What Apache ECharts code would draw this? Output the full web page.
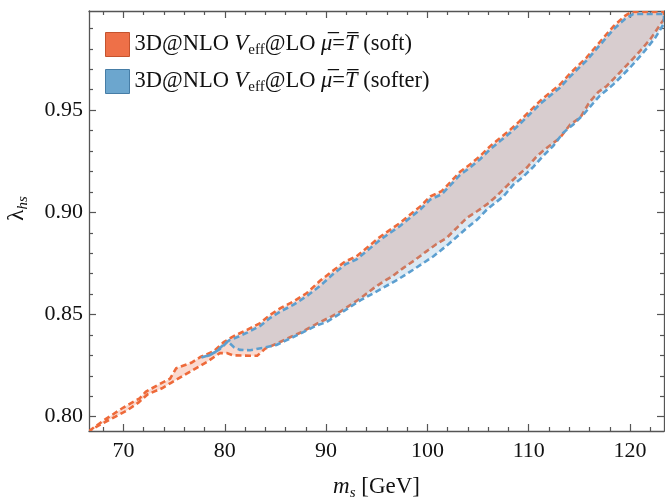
<!DOCTYPE html>
<html><head><meta charset="utf-8">
<script src="https://cdn.jsdelivr.net/npm/echarts@6/dist/echarts.min.js"></script>
<style>html,body{margin:0;padding:0;background:#fff}#c{width:665px;height:501px}</style>
</head><body><div id="c"></div>
<script>
// ---- data ----
const xMajor = [70, 80, 90, 100, 110, 120];
const xMinor = [68, 72, 74, 76, 78, 82, 84, 86, 88, 92, 94, 96, 98, 102, 104, 106, 108, 112, 114, 116, 118, 122];
const yMajor = [0.80, 0.85, 0.90, 0.95];
const yMinor = [0.81, 0.82, 0.83, 0.84, 0.86, 0.87, 0.88, 0.89, 0.91, 0.92, 0.93, 0.94, 0.96, 0.97, 0.98, 0.99];
const X_MIN = 66.6, X_MAX = 123.35, Y_MIN = 0.793, Y_MAX = 0.9985;

const softUpperX = [66.6, 68.0, 70.0, 71.6, 72.2, 73.4, 74.6, 75.2, 76.7, 77.6, 78.9, 79.9, 80.8, 82.2, 83.5, 84.5, 85.5, 86.8, 88.1, 89.4, 90.7, 91.9, 93.0, 94.0, 95.2, 96.1, 97.3, 98.3, 99.3, 100.3, 101.4, 102.2, 103.2, 104.3, 105.2, 106.2, 107.2, 108.2, 109.1, 110.1, 111.1, 112.1, 113.1, 114.0, 115.0, 115.7, 117.4, 118.4, 119.5, 120.1, 123.35];
const softUpperY = [0.7930, 0.7980, 0.8045, 0.8090, 0.8122, 0.8155, 0.8186, 0.8237, 0.8264, 0.8292, 0.8320, 0.8365, 0.8392, 0.8425, 0.8458, 0.8499, 0.8531, 0.8564, 0.8605, 0.8665, 0.8715, 0.8760, 0.8784, 0.8825, 0.8875, 0.8907, 0.8948, 0.8989, 0.9029, 0.9078, 0.9103, 0.9144, 0.9197, 0.9238, 0.9275, 0.9324, 0.9365, 0.9405, 0.9446, 0.9495, 0.9544, 0.9585, 0.9626, 0.9675, 0.9724, 0.9757, 0.9855, 0.9912, 0.9961, 0.9980, 0.9980];
const softLowerX = [66.6, 68.0, 70.3, 71.5, 72.4, 73.8, 74.7, 76.6, 78.3, 79.5, 80.2, 80.8, 83.2, 84.0, 85.1, 86.5, 87.5, 89.1, 90.5, 91.4, 93.4, 94.7, 95.5, 96.5, 97.6, 98.8, 99.9, 100.9, 101.9, 102.9, 103.9, 104.9, 105.9, 106.8, 107.8, 108.8, 109.8, 110.8, 111.8, 113.1, 114.1, 115.1, 116.0, 116.9, 117.7, 119.3, 120.7, 122.0, 123.0, 123.35];
const softLowerY = [0.7930, 0.7969, 0.8029, 0.8070, 0.8110, 0.8139, 0.8166, 0.8221, 0.8270, 0.8311, 0.8311, 0.8300, 0.8298, 0.8333, 0.8357, 0.8390, 0.8412, 0.8455, 0.8490, 0.8514, 0.8580, 0.8629, 0.8656, 0.8686, 0.8727, 0.8768, 0.8809, 0.8845, 0.8875, 0.8924, 0.8973, 0.9005, 0.9040, 0.9078, 0.9127, 0.9176, 0.9218, 0.9275, 0.9316, 0.9365, 0.9430, 0.9464, 0.9540, 0.9590, 0.9618, 0.9700, 0.9773, 0.9847, 0.9920, 0.9945];

const softerUpperX = [77.7, 78.5, 79.2, 80.0, 80.5, 80.8, 82.2, 83.5, 84.5, 85.5, 86.8, 88.1, 89.4, 90.7, 91.9, 93.0, 94.0, 95.2, 96.1, 97.3, 98.3, 99.3, 100.3, 101.4, 102.2, 103.2, 104.3, 105.2, 106.2, 107.2, 108.2, 109.1, 110.1, 111.1, 112.1, 113.1, 114.0, 115.0, 115.7, 117.4, 118.4, 119.5, 120.3, 123.35];
const softerUpperY = [0.8290, 0.8302, 0.8320, 0.8358, 0.8376, 0.8380, 0.8411, 0.8444, 0.8484, 0.8515, 0.8548, 0.8590, 0.8640, 0.8698, 0.8745, 0.8770, 0.8810, 0.8860, 0.8892, 0.8933, 0.8974, 0.9014, 0.9063, 0.9088, 0.9129, 0.9182, 0.9223, 0.9260, 0.9309, 0.9350, 0.9390, 0.9431, 0.9480, 0.9529, 0.9570, 0.9611, 0.9660, 0.9709, 0.9742, 0.9840, 0.9897, 0.9946, 0.9970, 0.9970];
const softerLowerX = [77.7, 78.5, 79.5, 80.3, 80.9, 81.5, 82.5, 84.0, 85.1, 86.0, 87.4, 89.1, 90.0, 91.4, 93.4, 95.0, 97.1, 98.6, 100.6, 102.1, 103.9, 104.9, 105.9, 107.5, 108.5, 109.5, 110.5, 111.4, 112.4, 113.4, 114.4, 115.4, 116.4, 117.0, 118.35, 120.0, 121.3, 122.5, 123.3, 123.35];
const softerLowerY = [0.8290, 0.8300, 0.8330, 0.8368, 0.8340, 0.8327, 0.8325, 0.8339, 0.8351, 0.8372, 0.8405, 0.8447, 0.8462, 0.8505, 0.8570, 0.8613, 0.8672, 0.8719, 0.8785, 0.8845, 0.8924, 0.8964, 0.9015, 0.9078, 0.9136, 0.9176, 0.9225, 0.9275, 0.9324, 0.9389, 0.9430, 0.9479, 0.9536, 0.9570, 0.9626, 0.9708, 0.9781, 0.9855, 0.9920, 0.9925];

// ---- chart ----
const FONT = 'Liberation Serif';
const AX = '#555';
const chart = echarts.init(document.getElementById('c'), null, {renderer: 'canvas'});

function band(name, ux, uy, lx, ly, mode, color) {
  return {
    type: 'custom', name: name, xAxisIndex: 0, yAxisIndex: 0, clip: true, silent: true,
    data: [[ux[0], uy[0]]], encode: {x: 0, y: 1},
    itemStyle: {color: color},
    renderItem: function (params, api) {
      const pts = [];
      for (let i = 0; i < ux.length; i++) pts.push(api.coord([ux[i], uy[i]]));
      for (let i = lx.length - 1; i >= 0; i--) pts.push(api.coord([lx[i], ly[i]]));
      const style = mode === 'fill'
        ? {fill: color, stroke: null}
        : {fill: null, stroke: color, lineWidth: 2.6, lineDash: [6, 3.5]};
      return {type: 'polygon', shape: {points: pts}, style: style, silent: true};
    }
  };
}

const labelFont = {fontFamily: FONT, fontSize: 22, color: '#111'};
function xAx(pos, vals, len, line, labels) {
  return {
    type: 'value', min: X_MIN, max: X_MAX, position: pos, splitLine: {show: false},
    axisLine: {show: line, onZero: false, lineStyle: {color: AX, width: 1.3}},
    axisTick: {show: true, inside: true, length: len, customValues: vals, lineStyle: {color: AX, width: 1.2}},
    axisLabel: labels ? Object.assign({show: true, customValues: vals, margin: 9}, labelFont) : {show: false}
  };
}
function yAx(pos, vals, len, line, labels) {
  return {
    type: 'value', min: Y_MIN, max: Y_MAX, position: pos, splitLine: {show: false},
    axisLine: {show: line, onZero: false, lineStyle: {color: AX, width: 1.3}},
    axisTick: {show: true, inside: true, length: len, customValues: vals, lineStyle: {color: AX, width: 1.2}},
    axisLabel: labels ? Object.assign({show: true, customValues: vals, margin: 6, formatter: v => v.toFixed(2)}, labelFont) : {show: false}
  };
}

const xa0 = xAx('bottom', xMajor, 7, true, true);
xa0.name = '{it|m}{sub|s} [GeV]';
xa0.nameLocation = 'middle';
xa0.nameGap = 42;
xa0.nameTextStyle = {fontFamily: FONT, fontSize: 23, color: '#111',
  rich: {it: {fontFamily: FONT, fontSize: 23, fontStyle: 'italic', color: '#111'},
         sub: {fontFamily: FONT, fontSize: 15, fontStyle: 'italic', color: '#111', verticalAlign: 'top', padding: [13, 0, 0, 0]}}};
const ya0 = yAx('left', yMajor, 7, true, true);
ya0.name = 'λ{sub|hs}';
ya0.nameLocation = 'middle';
ya0.nameGap = 58;
ya0.nameRotate = 90;
ya0.nameTextStyle = {fontFamily: FONT, fontSize: 23, color: '#111', padding: [0, 0, 0, 25],
  rich: {sub: {fontFamily: FONT, fontSize: 15, fontStyle: 'italic', color: '#111', verticalAlign: 'top', padding: [13, 0, 0, 0]}}};

const richLegend = {
  it: {fontFamily: FONT, fontSize: 22.5, fontStyle: 'italic', color: '#111'},
  sub: {fontFamily: FONT, fontSize: 15, color: '#111', verticalAlign: 'top', padding: [12, 0, 0, 0]}
};

const option = {
  animation: false,
  backgroundColor: '#fff',
  grid: {left: 89, right: 1, top: 11, bottom: 70, containLabel: false, outerBoundsMode: 'none'},
  xAxis: [xa0, xAx('bottom', xMinor, 4, false, false), xAx('top', xMajor, 7, true, false), xAx('top', xMinor, 4, false, false)],
  yAxis: [ya0, yAx('left', yMinor, 4, false, false), yAx('right', yMajor, 7, true, false), yAx('right', yMinor, 4, false, false)],
  legend: {
    orient: 'vertical', left: 105, top: 32, itemWidth: 24, itemHeight: 24, itemGap: 11,
    selectedMode: false, padding: 0,
    textStyle: {fontFamily: FONT, fontSize: 22.5, color: '#111', rich: richLegend},
    formatter: function (n) {
      const tail = n === 'soft' ? ' (soft)' : ' (softer)';
      return '3D@NLO {it|V}{sub|eff}@LO {it|μ\u0305}={it|T\u0305}' + tail;
    },
    data: [
      {name: 'soft', icon: 'rect', itemStyle: {color: '#EE7048', borderColor: '#C4532E', borderWidth: 1}},
      {name: 'softer', icon: 'rect', itemStyle: {color: '#6CA6CE', borderColor: '#467DA6', borderWidth: 1}}
    ]
  },
  series: [
    band('soft', softUpperX, softUpperY, softLowerX, softLowerY, 'fill', 'rgba(237,109,69,0.25)'),
    band('soft', softUpperX, softUpperY, softLowerX, softLowerY, 'line', '#EE6A3A'),
    band('softer', softerUpperX, softerUpperY, softerLowerX, softerLowerY, 'fill', 'rgba(107,165,204,0.24)'),
    band('softer', softerUpperX, softerUpperY, softerLowerX, softerLowerY, 'line', '#5C9FD0')
  ]
};
chart.setOption(option);
</script>
</body></html>
